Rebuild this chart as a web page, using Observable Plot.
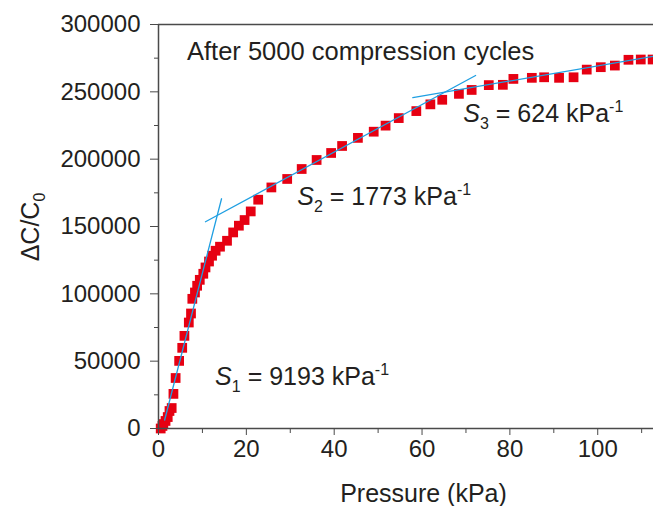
<!DOCTYPE html>
<html><head><meta charset="utf-8">
<script src="https://cdn.jsdelivr.net/npm/d3@7"></script>
<script src="https://cdn.jsdelivr.net/npm/@observablehq/plot@0.6"></script>
<style>body{margin:0;background:#fff;} #chart svg{display:block;}</style>
</head><body><div id="chart"></div>
<script>
// Measured data (Pressure in kPa, ΔC/C0)
const pressure = [0.5,0.9,1.1,1.6,2.1,2.5,3.0,3.4,3.9,4.7,5.4,5.9,6.9,7.4,7.7,8.3,8.8,9.4,10.2,10.7,11.5,12.2,13.0,14.0,15.6,17.0,18.3,19.6,21.0,22.7,25.7,29.3,32.6,36.0,39.3,41.8,45.4,49.0,51.7,54.7,58.7,61.9,64.6,68.4,71.3,75.2,78.4,80.8,85.0,87.8,91.2,94.5,97.5,100.7,103.9,107.0,109.8,112.5];
const deltaC = [0,1900,3300,5600,8500,13000,15200,25700,37500,50200,59900,68800,78700,85400,96300,101000,106000,110400,114900,119600,124000,128300,132000,135000,139400,145600,150600,154800,161200,169900,179000,185300,192700,199400,204600,209800,215800,220400,224900,230500,235700,240700,244100,248500,251400,255000,255200,259600,260400,260800,260400,260800,266500,268300,269500,273800,274000,274000];

// Tangent (fit) lines, endpoints
const tangentS1x = [1.4, 14.35], tangentS1y = [6300, 170600];
const tangentS2x = [10.7, 72.2], tangentS2y = [153500, 262100];
const tangentS3x = [57.9, 112.8], tangentS3y = [245700, 276400];

// Ticks
const xTicks = [0,20,40,60,80,100];
const xMinor = [10,30,50,70,90,110];
const yTicks = [0,50000,100000,150000,200000,250000,300000];
const yMinor = [25000,75000,125000,175000,225000,275000];

// Annotation texts
const title = "After 5000 compression cycles";
const slopes = [
  {name:"1", value:"9193", x:13.0, y:31600},
  {name:"2", value:"1773", x:31.7, y:165400},
  {name:"3", value:"624", x:69.5, y:227100}
];

const points = pressure.map((p,i)=>({p, c: deltaC[i]}));
const line = (xs, ys) => xs.map((x,i)=>({x, y: ys[i]}));
const axisColor = "#4a4a4a", textColor = "#231f20";

const plot = Plot.plot({
  width: 653, height: 506,
  marginLeft: 158, marginRight: 0, marginTop: 24, marginBottom: 78,
  style: {fontFamily: "'Liberation Sans', Arial, sans-serif", fontSize: "24px", color: textColor, background: "#fff", overflow: "visible"},
  x: {domain: [0, 112.7]},
  y: {domain: [0, 300000]},
  marks: [
    Plot.dot(points, {x:"p", y:"c", symbol:"square", r:5.5, fill:"#e60012", stroke:null}),
    Plot.line(line(tangentS1x, tangentS1y), {x:"x", y:"y", stroke:"#1f9fe2", strokeWidth:1.3}),
    Plot.line(line(tangentS2x, tangentS2y), {x:"x", y:"y", stroke:"#1f9fe2", strokeWidth:1.3}),
    Plot.line(line(tangentS3x, tangentS3y), {x:"x", y:"y", stroke:"#1f9fe2", strokeWidth:1.3}),
    Plot.axisY({ticks: yTicks, tickSize: 8, tickPadding: 10, tickFormat: d3.format("d"), label: null, stroke: axisColor, fill: textColor}),
    Plot.axisY({ticks: yMinor, tickSize: 4, tickFormat: () => "", label: null, stroke: axisColor}),
    Plot.axisX({ticks: xTicks, tickSize: 7, tickPadding: 4, tickFormat: d3.format("d"), label: null, stroke: axisColor, fill: textColor}),
    Plot.axisX({ticks: xMinor, tickSize: 5, tickFormat: () => "", label: null, stroke: axisColor}),
    Plot.ruleX([0], {stroke: axisColor, strokeWidth: 1.5}),
    Plot.ruleY([0], {stroke: axisColor, strokeWidth: 1.5}),
    Plot.ruleY([300000], {stroke: axisColor, strokeWidth: 1.5})
  ]
});

const xs = plot.scale("x"), ys = plot.scale("y");
const svg = d3.select(plot);
const fam = "'Liberation Sans', Arial, sans-serif";

// Title annotation
svg.append("text").attr("x", xs.apply(6.6)).attr("y", ys.apply(273200)).attr("text-anchor", "start")
  .attr("font-family", fam).attr("font-size", 25.5).attr("fill", textColor).text(title);

// Slope annotations
for (const s of slopes) {
  const t = svg.append("text").attr("x", xs.apply(s.x)).attr("y", ys.apply(s.y)).attr("text-anchor", "start")
    .attr("font-family", fam).attr("font-size", 25).attr("fill", textColor);
  t.append("tspan").attr("font-style", "italic").text("S");
  t.append("tspan").attr("font-size", 16).attr("dy", 7).text(s.name);
  t.append("tspan").attr("dy", -7).text(" = " + s.value + " kPa");
  t.append("tspan").attr("font-size", 16).attr("dy", -10).text("-1");
}

// Axis labels
svg.append("text").attr("x", (158 + 653) / 2 + 18).attr("y", 502)
  .attr("text-anchor", "middle").attr("font-family", fam).attr("font-size", 25)
  .attr("fill", textColor).text("Pressure (kPa)");
const yl = svg.append("text").attr("transform", "translate(39,227) rotate(-90)")
  .attr("text-anchor", "middle").attr("font-family", fam).attr("font-size", 25).attr("fill", textColor);
yl.append("tspan").text("ΔC/C");
yl.append("tspan").attr("font-size", 16).attr("dy", 6).text("0");

document.getElementById("chart").appendChild(plot);
</script>
</body></html>
